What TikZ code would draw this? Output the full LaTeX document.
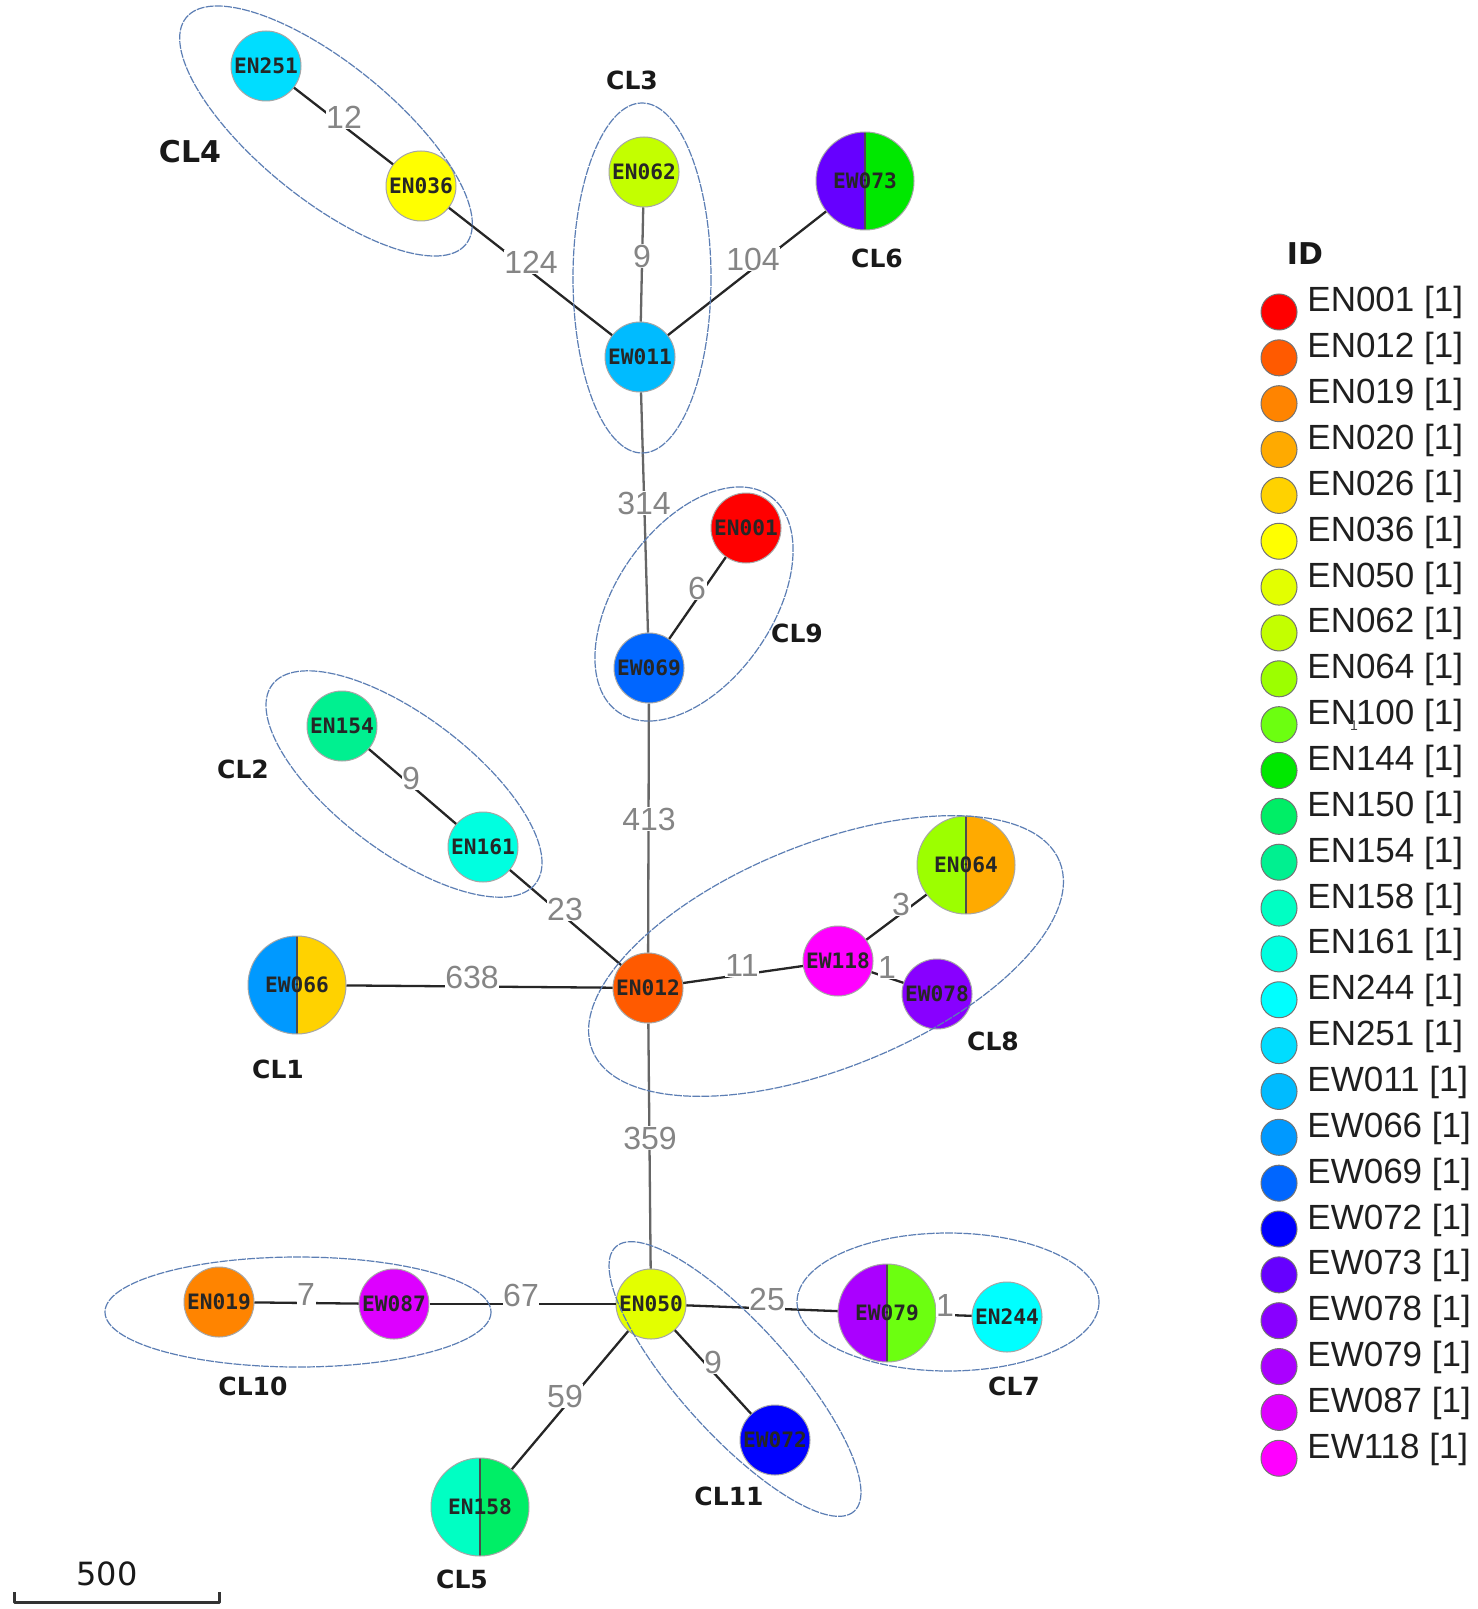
\documentclass[tikz,border=0pt]{standalone}
\usepackage{fontspec}
\usetikzlibrary{calc}
\setmainfont{Liberation Sans}
\newfontfamily\dvs{DejaVu Sans}
\newfontfamily\dvsmono{DejaVu Sans Mono}
\definecolor{cEN001}{HTML}{FF0000}
\definecolor{cEN012}{HTML}{FF5A00}
\definecolor{cEN019}{HTML}{FF8400}
\definecolor{cEN020}{HTML}{FFAA00}
\definecolor{cEN026}{HTML}{FFD200}
\definecolor{cEN036}{HTML}{FFFF00}
\definecolor{cEN050}{HTML}{E3FF00}
\definecolor{cEN062}{HTML}{C3FF00}
\definecolor{cEN064}{HTML}{9CFF00}
\definecolor{cEN100}{HTML}{6CFF10}
\definecolor{cEN144}{HTML}{00E800}
\definecolor{cEN150}{HTML}{00EE66}
\definecolor{cEN154}{HTML}{00F090}
\definecolor{cEN158}{HTML}{00FFC3}
\definecolor{cEN161}{HTML}{00FFE0}
\definecolor{cEN244}{HTML}{00FFFF}
\definecolor{cEN251}{HTML}{00DDFF}
\definecolor{cEW011}{HTML}{00BBFF}
\definecolor{cEW066}{HTML}{0099FF}
\definecolor{cEW069}{HTML}{0066FF}
\definecolor{cEW072}{HTML}{0000FF}
\definecolor{cEW073}{HTML}{6600FF}
\definecolor{cEW078}{HTML}{8800FF}
\definecolor{cEW079}{HTML}{AA00FF}
\definecolor{cEW087}{HTML}{DD00FF}
\definecolor{cEW118}{HTML}{FF00FF}
\definecolor{clusblue}{RGB}{92,126,180}
\tikzset{
  iso/.style={circle, draw=black!35, line width=0.5pt, minimum size=35pt, inner sep=0pt,
    font=\dvsmono\bfseries\fontsize{10.6}{12}\selectfont, text=black!85},
  bigiso/.style={iso, minimum size=49pt},
  halves/.style 2 args={bigiso, path picture={
    \fill[#1] (path picture bounding box.south west) rectangle (path picture bounding box.north);
    \fill[#2] (path picture bounding box.south) rectangle (path picture bounding box.north east);
    \draw[black!70, line width=0.6pt] (path picture bounding box.south) -- (path picture bounding box.north);}},
  link/.style={draw=black!85, line width=1.15pt},
  vlink/.style={draw=black!60, line width=1.15pt},
  dist/.style={font=\fontsize{16}{18}\selectfont, text=black!48, fill=white, inner sep=0.3pt},
  clus/.style={draw=clusblue, line width=0.6pt, dash pattern=on 4pt off 0.6pt},
  cl/.style={font=\dvs\bfseries\fontsize{12.5}{14}\selectfont, text=black!90, inner sep=0pt},
  legdot/.style={circle, draw=black!55, line width=0.5pt, minimum size=18pt, inner sep=0pt},
  legtxt/.style={anchor=base west, inner sep=0pt, font=\fontsize{17.5}{20}\selectfont, text=black!88},
}
\begin{document}
\begin{tikzpicture}[x=0.5pt,y=-0.5pt]
\useasboundingbox (0,0) rectangle (1477,1609);
\fill[white] (0,0) rectangle (1477,1609);

% isolates
\node[iso, fill=cEN251] (EN251) at (266,66) {EN251};
\node[iso, fill=cEN036] (EN036) at (421,186) {EN036};
\node[iso, fill=cEN062] (EN062) at (644,172) {EN062};
\node[halves={cEW073}{cEN144}] (EW073) at (865,181) {EW073};
\node[iso, fill=cEW011] (EW011) at (640,357) {EW011};
\node[iso, fill=cEN001] (EN001) at (746,528) {EN001};
\node[iso, fill=cEW069] (EW069) at (649,668) {EW069};
\node[iso, fill=cEN154] (EN154) at (342,726) {EN154};
\node[iso, fill=cEN161] (EN161) at (483,847) {EN161};
\node[halves={cEW066}{cEN026}] (EW066) at (297,985) {EW066};
\node[iso, fill=cEN012] (EN012) at (648,988) {EN012};
\node[iso, fill=cEW118] (EW118) at (838,961) {EW118};
\node[halves={cEN064}{cEN020}] (EN064) at (966,865) {EN064};
\node[iso, fill=cEW078] (EW078) at (937,994) {EW078};
\node[iso, fill=cEN050] (EN050) at (651,1304) {EN050};
\node[iso, fill=cEN019] (EN019) at (219,1302) {EN019};
\node[iso, fill=cEW087] (EW087) at (394,1304) {EW087};
\node[halves={cEW079}{cEN100}] (EW079) at (887,1313) {EW079};
\node[iso, fill=cEN244] (EN244) at (1007,1317) {EN244};
\node[iso, fill=cEW072] (EW072) at (775,1440) {EW072};
\node[halves={cEN158}{cEN150}] (EN158) at (480,1507) {EN158};

% links
\draw[link] (EN251) -- (EN036);
\draw[link] (EN036) -- (EW011);
\draw[vlink] (EN062) -- (EW011);
\draw[link] (EW073) -- (EW011);
\draw[vlink] (EW011) -- (EW069);
\draw[link] (EN001) -- (EW069);
\draw[vlink] (EW069) -- (EN012);
\draw[link] (EN154) -- (EN161);
\draw[link] (EN161) -- (EN012);
\draw[link] (EW066) -- (EN012);
\draw[link] (EN012) -- (EW118);
\draw[link] (EW118) -- (EN064);
\draw[link] (EW118) -- (EW078);
\draw[vlink] (EN012) -- (EN050);
\draw[link] (EN019) -- (EW087);
\draw[link] (EW087) -- (EN050);
\draw[link] (EN050) -- (EW079);
\draw[link] (EW079) -- (EN244);
\draw[link] (EN050) -- (EW072);
\draw[link] (EN050) -- (EN158);

% distances
\node[dist] (d12) at (344,117) {12};
\node[dist] (d124) at (531,262) {124};
\node[dist] (d9a) at (642,256) {9};
\node[dist] (d104) at (753,259) {104};
\node[dist] (d314) at (644,503) {314};
\node[dist] (d6) at (697,588) {6};
\node[dist] (d9b) at (411,778) {9};
\node[dist] (d413) at (649,819) {413};
\node[dist] (d23) at (565,909) {23};
\node[dist] (d638) at (472,977) {638};
\node[dist] (d11) at (742,965) {11};
\node[dist] (d3) at (901,904) {3};
\node[dist] (d1a) at (887,967) {1};
\node[dist] (d359) at (650,1138) {359};
\node[dist] (d7) at (306,1294) {7};
\node[dist] (d67) at (521,1295) {67};
\node[dist] (d25) at (767,1299) {25};
\node[dist] (d1b) at (945,1305) {1};
\node[dist] (d9c) at (713,1362) {9};
\node[dist] (d59) at (565,1396) {59};

% clusters
\draw[clus] (326,131) ellipse [x radius=180, y radius=68, rotate=-39];
\draw[clus] (642,278) ellipse [x radius=69, y radius=175];
\draw[clus] (694,604) ellipse [x radius=132, y radius=78, rotate=55];
\draw[clus] (404,784) ellipse [x radius=165, y radius=68, rotate=-37];
\draw[clus] (826,956) ellipse [x radius=252, y radius=112, rotate=22];
\draw[clus] (948,1302) ellipse [x radius=151, y radius=69];
\draw[clus] (298,1312) ellipse [x radius=193, y radius=55];
\draw[clus] (735,1379) ellipse [x radius=178, y radius=55, rotate=-48];

% cluster labels
\node[cl, font=\dvs\bfseries\fontsize{15}{17}\selectfont] (CL4) at (190,152) {CL4};
\node[cl] (CL3) at (632,80) {CL3};
\node[cl] (CL6) at (877,258) {CL6};
\node[cl] (CL9) at (797,633) {CL9};
\node[cl] (CL2) at (243,769) {CL2};
\node[cl] (CL1) at (278,1069) {CL1};
\node[cl] (CL8) at (993,1041) {CL8};
\node[cl] (CL10) at (253,1386) {CL10};
\node[cl] (CL7) at (1014,1386) {CL7};
\node[cl] (CL11) at (729,1496) {CL11};
\node[cl] (CL5) at (462,1579) {CL5};

% legend
\node[cl, font=\dvs\bfseries\fontsize{15}{17}\selectfont] (ID) at (1305,254) {ID};
\foreach \i/\n in {0/EN001,1/EN012,2/EN019,3/EN020,4/EN026,5/EN036,6/EN050,7/EN062,8/EN064,9/EN100,10/EN144,11/EN150,12/EN154,13/EN158,14/EN161,15/EN244,16/EN251,17/EW011,18/EW066,19/EW069,20/EW072,21/EW073,22/EW078,23/EW079,24/EW087,25/EW118}{
  \node[legdot, fill=c\n] (dot\n) at (1279,{312+45.85*\i}) {};
  \node[legtxt] (lab\n) at (1307,{312+45.85*\i}) {\n{} [1]};
}
\node[inner sep=0pt, font=\fontsize{7}{8}\selectfont, text=black!75] (stray) at (1354,726) {1};

% scale bar
\coordinate (sbA) at (14,1592);
\coordinate (sbB) at (219,1592);
\draw[line width=1.5pt, black!80, line join=round] (sbA) -- ++(0,10) -- ($(sbB)+(0,10)$) -- (sbB);
\node[inner sep=0pt, font=\dvs\fontsize{16}{18}\selectfont, text=black!90] (scale) at (107,1574) {500};
\end{tikzpicture}
\end{document}
